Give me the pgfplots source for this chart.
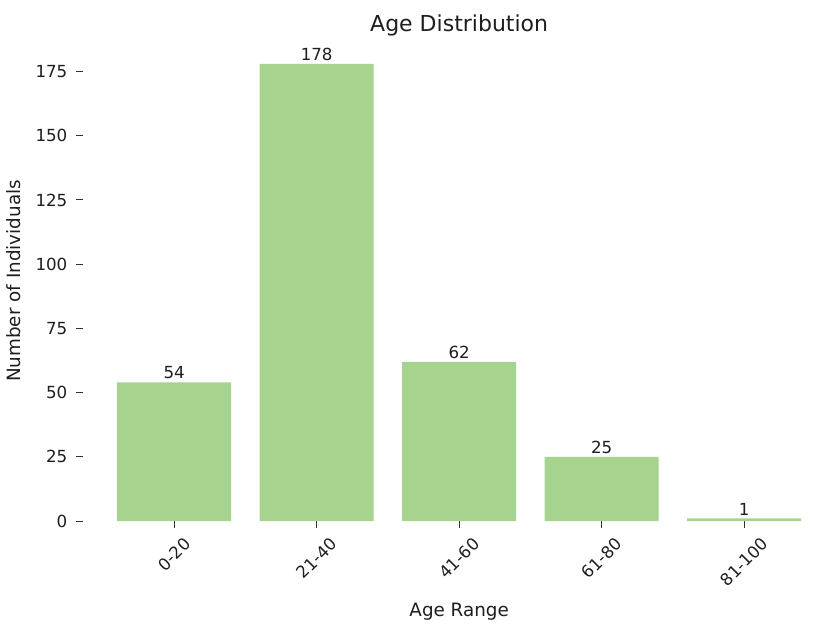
\documentclass[border=0pt]{standalone}
\usepackage{pgfplots}
\pgfplotsset{compat=1.18}
\usepackage{fontspec}
\setmainfont{DejaVu Sans}
\definecolor{bargreen}{HTML}{A6D38D}
\definecolor{txt}{HTML}{1E1E1E}
\begin{document}
\begin{tikzpicture}
\begin{axis}[
  at={(0,0)}, anchor=south west,
  scale only axis,
  width=451.4pt, height=288pt,
  xmin=-0.64, xmax=4.64, ymin=0, ymax=186.9,
  ybar, bar width=0.8,
  axis line style={draw=none},
  xtick={0,1,2,3,4},
  xticklabels={\rotatebox{45}{0-20},\rotatebox{45}{21-40},\rotatebox{45}{41-60},\rotatebox{45}{61-80},\rotatebox{45}{81-100}},
  ytick={0,25,50,75,100,125,150,175},
  xtick pos=bottom, ytick pos=left,
  tick align=outside,
  major tick length=4.2pt,
  tick style={black!80, line width=0.6pt},
  /pgf/number format/assume math mode=true,
  ticklabel style={font=\fontsize{10}{12}\selectfont, text=txt},
  xticklabel style={anchor=north, inner sep=0pt, yshift=-5pt},
  yticklabel style={anchor=east, inner sep=0pt, xshift=-5pt},
  every axis title shift=0pt,
  title={Age Distribution},
  title style={at={(axis description cs:0.5,1.0208)}, anchor=base, yshift=0pt, font=\fontsize{13.2}{15}\selectfont, text=txt},
  xlabel={Age Range},
  ylabel={Number of Individuals},
  every axis x label/.style={at={(axis description cs:0.5,-0.198)}, anchor=base, font=\fontsize{11}{13}\selectfont, text=txt},
  every axis y label/.style={at={(axis description cs:-0.0924,0.5)}, anchor=center, rotate=90, font=\fontsize{11}{13}\selectfont, text=txt},
  nodes near coords={\pgfmathprintnumber[assume math mode=true]{\pgfplotspointmeta}},
  nodes near coords style={anchor=south, inner sep=1.8pt, font=\fontsize{10}{12}\selectfont, text=txt},
  clip=false,
]
\addplot[fill=bargreen, draw=none] coordinates {(0,54) (1,178) (2,62) (3,25) (4,1)};
\end{axis}
\pgfresetboundingbox
\path[use as bounding box] (-49.8pt,-64.8pt) rectangle (442.2pt,312.6pt);
\end{tikzpicture}
\end{document}
